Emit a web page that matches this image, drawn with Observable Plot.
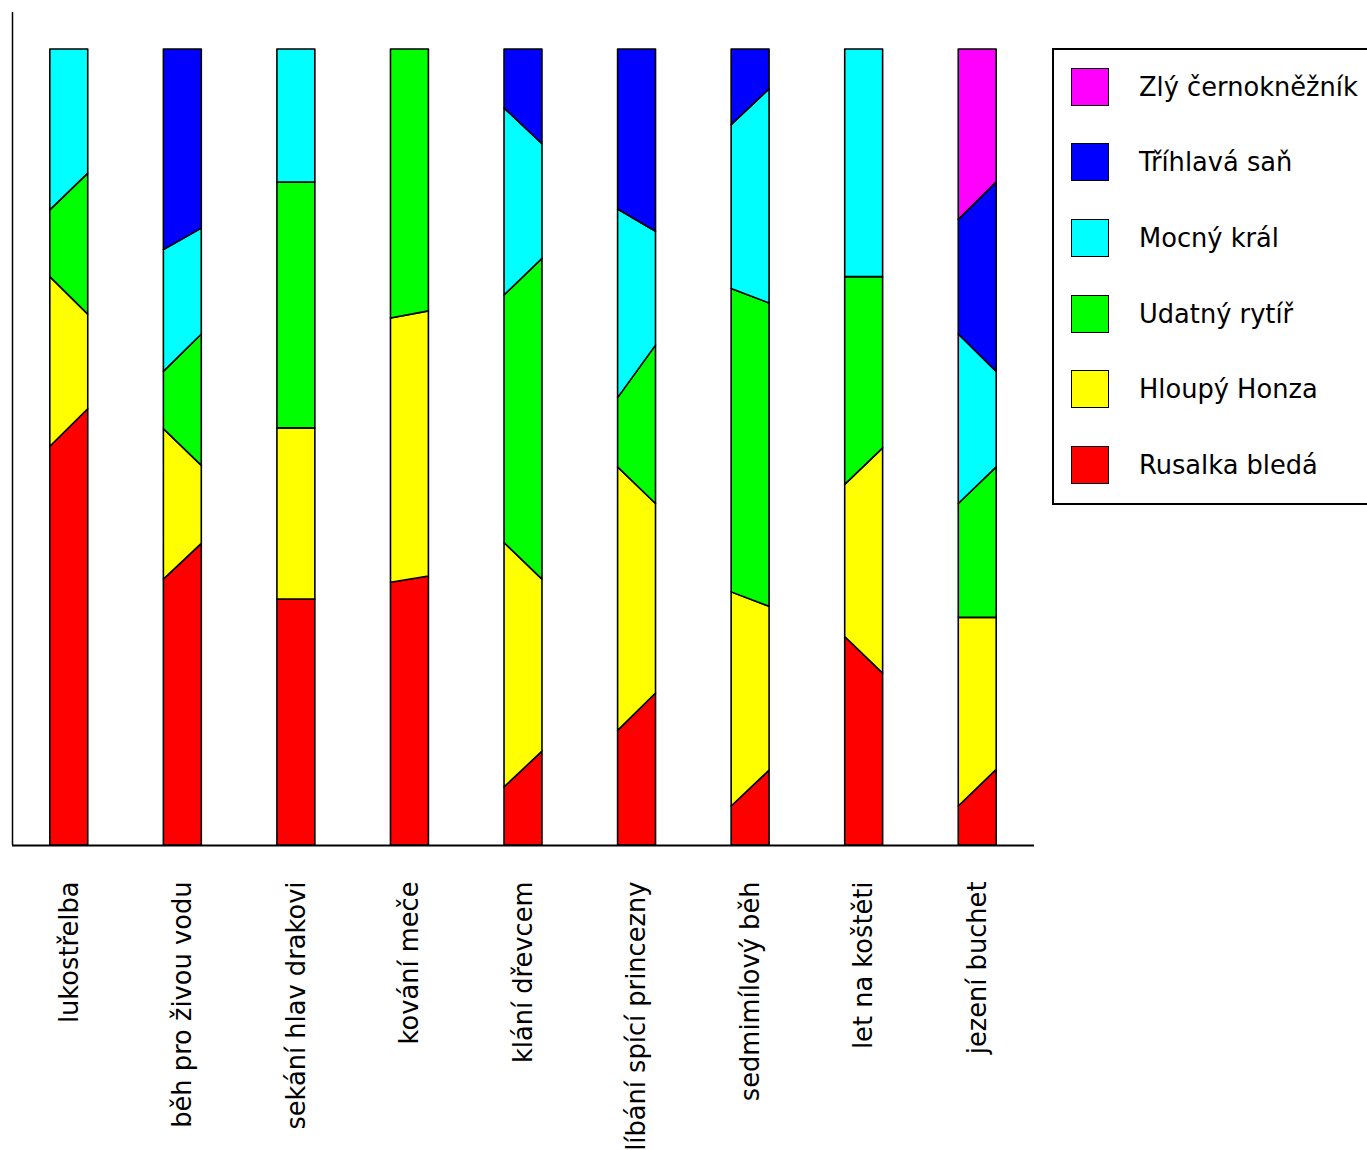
<!DOCTYPE html>
<html>
<head>
<meta charset="utf-8">
<script src="https://cdn.jsdelivr.net/npm/d3@7"></script>
<script src="https://cdn.jsdelivr.net/npm/@observablehq/plot@0.6"></script>
<style>
  html, body { margin: 0; padding: 0; background: #fff; overflow: hidden; }
  #wrap { position: relative; width: 1367px; height: 1150px; }
  #legend {
    position: absolute; left: 1052px; top: 48px; width: 340px; height: 457px;
    border: 2px solid #000; box-sizing: border-box; background: #fff;
    font-family: "DejaVu Sans", sans-serif; font-size: 25.7px; color: #000;
  }
  .item { position: absolute; left: 17px; height: 39px; display: flex; align-items: center; }
  .sw { width: 36px; height: 36px; border: 1.5px solid #000; }
  .lab { margin-left: 30px; white-space: nowrap; }
</style>
</head>
<body>
<div id="wrap"></div>
<script>
const categories = ["lukostřelba", "běh pro živou vodu", "sekání hlav drakovi", "kování meče",
  "klání dřevcem", "líbání spící princezny", "sedmimílový běh", "let na koštěti", "jezení buchet"];

const series = ["Rusalka bledá", "Hloupý Honza", "Udatný rytíř", "Mocný král", "Tříhlavá saň", "Zlý černokněžník"];
const colors = ["#ff0000", "#ffff00", "#00ff00", "#00ffff", "#0000ff", "#ff00ff"];

// segment heights (percent) at the left edge of each bar
const rusalkaLeft  = [50.1, 33.4, 30.9, 33.0,  7.3, 14.4,  4.9, 26.2,  4.9];
const honzaLeft    = [21.3, 18.9, 21.5, 33.2, 30.7, 33.1, 26.9, 19.1, 23.7];
const rytirLeft    = [ 8.4,  7.2, 30.9, 33.8, 31.1,  8.7, 38.1, 26.1, 14.3];
const kralLeft     = [20.2, 15.3, 16.7,  0,   23.5, 23.7, 20.6, 28.6, 21.3];
const sanLeft      = [ 0,   25.2,  0,    0,    7.4, 20.1,  9.5,  0,   14.4];
const carodejLeft  = [ 0,    0,    0,    0,    0,    0,    0,    0,   21.4];

// segment heights (percent) at the right edge of each bar
const rusalkaRight = [54.8, 37.9, 30.9, 33.8, 11.8, 19.1,  9.4, 21.6,  9.5];
const honzaRight   = [11.9,  9.8, 21.5, 33.3, 21.6, 23.8, 20.6, 28.3, 19.1];
const rytirRight   = [17.7, 16.5, 30.9, 32.9, 40.3, 19.9, 38.1, 21.5, 18.9];
const kralRight    = [15.6, 13.3, 16.7,  0,   14.4, 14.3, 26.9, 28.6, 12.0];
const sanRight     = [ 0,   22.5,  0,    0,   11.9, 22.9,  5.0,  0,   23.8];
const carodejRight = [ 0,    0,    0,    0,    0,    0,    0,    0,   16.7];

const leftVals = [rusalkaLeft, honzaLeft, rytirLeft, kralLeft, sanLeft, carodejLeft];
const rightVals = [rusalkaRight, honzaRight, rytirRight, kralRight, sanRight, carodejRight];

const halfWidth = 0.167;
const rows = [];
categories.forEach((c, i) => {
  let accL = 0, accR = 0;
  const totL = d3.sum(leftVals, a => a[i]);
  const totR = d3.sum(rightVals, a => a[i]);
  series.forEach((s, k) => {
    const l = leftVals[k][i] / totL * 100, r = rightVals[k][i] / totR * 100;
    if (l === 0 && r === 0) { return; }
    const key = c + "|" + s;
    rows.push({key, s, x: i - halfWidth, y1: accL, y2: accL + l});
    rows.push({key, s, x: i + halfWidth, y1: accR, y2: accR + r});
    accL += l; accR += r;
  });
});

const chart = Plot.plot({
  width: 1367,
  height: 1150,
  marginLeft: 12,
  marginRight: 333,
  marginTop: 12,
  marginBottom: 305,
  style: { fontFamily: "DejaVu Sans, sans-serif", fontSize: "25.7px", background: "#fff", color: "#000" },
  x: { domain: [-0.5, categories.length - 0.5] },
  y: { domain: [0, 104.65], axis: null },
  color: { domain: series, range: colors },
  marks: [
    Plot.areaY(rows, {x: "x", y1: "y1", y2: "y2", z: "key", fill: "s", stroke: "#000", strokeWidth: 1.6, curve: "linear"}),
    Plot.ruleX([-0.5], {stroke: "#000", strokeWidth: 1.5}),
    Plot.ruleY([0], {stroke: "#000", strokeWidth: 2}),
    Plot.axisX({ticks: d3.range(categories.length), tickFormat: i => categories[i], tickRotate: -90,
      tickSize: 0, tickPadding: 36, fontSize: 25.7, label: null})
  ]
});
document.getElementById("wrap").appendChild(chart);

const legend = document.createElement("div");
legend.id = "legend";
series.slice().reverse().forEach((s, j) => {
  const k = series.length - 1 - j;
  const item = document.createElement("div");
  item.className = "item";
  item.style.top = (17 + j * 75.7) + "px";
  const sw = document.createElement("div");
  sw.className = "sw";
  sw.style.background = colors[k];
  const lab = document.createElement("span");
  lab.className = "lab";
  lab.textContent = s;
  item.appendChild(sw); item.appendChild(lab);
  legend.appendChild(item);
});
document.getElementById("wrap").appendChild(legend);
</script>
</body>
</html>
